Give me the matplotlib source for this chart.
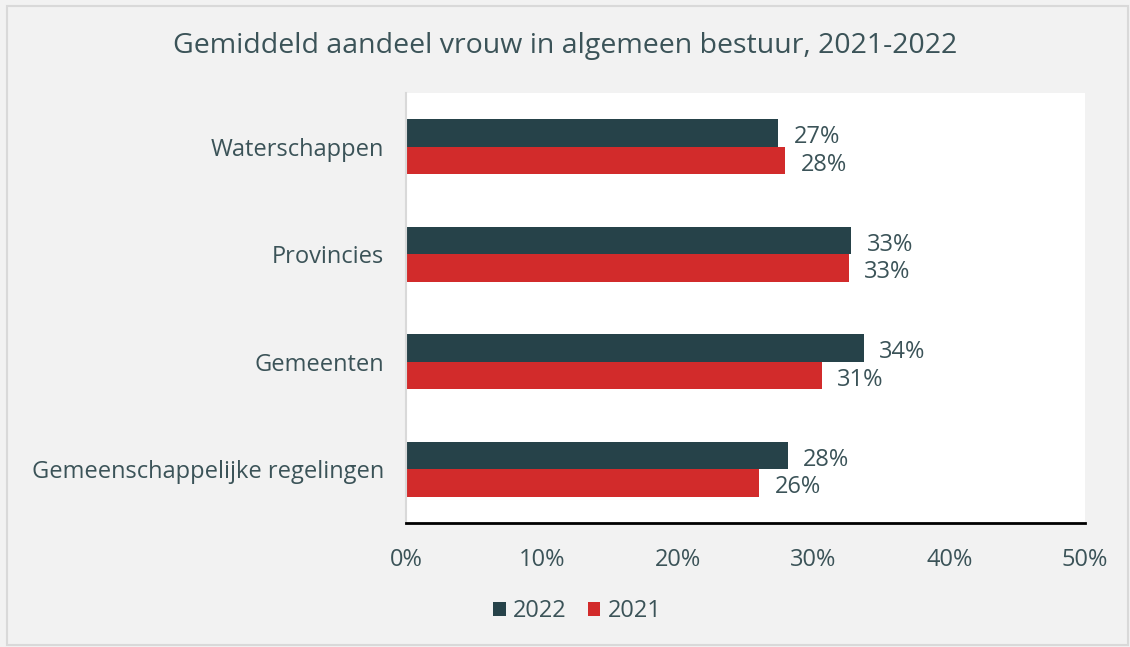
import matplotlib
matplotlib.use("Agg")
import matplotlib.pyplot as plt
from matplotlib.patches import Rectangle
from matplotlib.ticker import PercentFormatter
from matplotlib.transforms import offset_copy

# -----------------------------
# DATA
# -----------------------------
categories = ["Waterschappen", "Provincies", "Gemeenten", "Gemeenschappelijke regelingen"]
share_2022 = [27.4, 32.8, 33.7, 28.1]
share_2021 = [27.9, 32.6, 30.6, 26.0]
label_2022 = ["27%", "33%", "34%", "28%"]
label_2021 = ["28%", "33%", "31%", "26%"]

# -----------------------------
# STYLE
# -----------------------------
DARK = "#264249"
RED = "#d22b2b"
TEXT = "#3b5358"
BG = "#f2f2f2"
FS = 17

plt.rcParams["font.family"] = ["Open Sans", "DejaVu Sans"]

fig = plt.figure(figsize=(11.3, 6.47), dpi=100, facecolor=BG)
ax = fig.add_axes([406 / 1130, 1 - 523 / 647, 679 / 1130, 430 / 647])
ax.set_facecolor("white")

# outer frame
fig.patches.append(Rectangle((7 / 1130, 2 / 647), 1121 / 1130, 639 / 647,
                             transform=fig.transFigure, fill=False,
                             edgecolor="#d9d9d9", linewidth=1.5))

y = range(len(categories))
h = 0.256
y_top = [i - h / 2 for i in y]
y_bot = [i + h / 2 for i in y]

ax.barh(y_top, share_2022, height=h, color=DARK, label="2022")
ax.barh(y_bot, share_2021, height=h, color=RED, label="2021")

# nudge the value labels down a little so they sit on the bar centre
lab_tr = offset_copy(ax.transData, fig=fig, x=0, y=-3, units="points")
for yy, v, lab in zip(y_top, share_2022, label_2022):
    ax.text(v + 1.15, yy, lab, va="center", ha="left", fontsize=FS, color=TEXT,
            transform=lab_tr)
for yy, v, lab in zip(y_bot, share_2021, label_2021):
    ax.text(v + 1.15, yy, lab, va="center", ha="left", fontsize=FS, color=TEXT,
            transform=lab_tr)

ax.set_xlim(0, 50)
ax.set_ylim(3.5, -0.5)
ax.set_xticks([0, 10, 20, 30, 40, 50])
ax.xaxis.set_major_formatter(PercentFormatter(decimals=0))
ax.set_yticks(list(y))
ax.set_yticklabels(categories)
ax.tick_params(axis="both", length=0, labelsize=FS, labelcolor=TEXT)
ax.tick_params(axis="x", pad=18)
ax.tick_params(axis="y", pad=16)

for s in ["top", "right"]:
    ax.spines[s].set_visible(False)
ax.spines["left"].set_color("#d9d9d9")
ax.spines["left"].set_linewidth(1.5)
ax.spines["bottom"].set_color("black")
ax.spines["bottom"].set_linewidth(2)

fig.text(0.5, 1 - 46 / 647, "Gemiddeld aandeel vrouw in algemeen bestuur, 2021-2022",
         ha="center", va="center", fontsize=20.5, color=TEXT)

leg = fig.legend(loc="center", bbox_to_anchor=(577 / 1130, 1 - 611 / 647), ncol=2,
                 frameon=False, fontsize=FS, handlelength=0.55, handleheight=0.55,
                 handletextpad=0.3, columnspacing=0.9, labelcolor=TEXT)

fig.savefig("out.png", dpi=100, facecolor=BG)
